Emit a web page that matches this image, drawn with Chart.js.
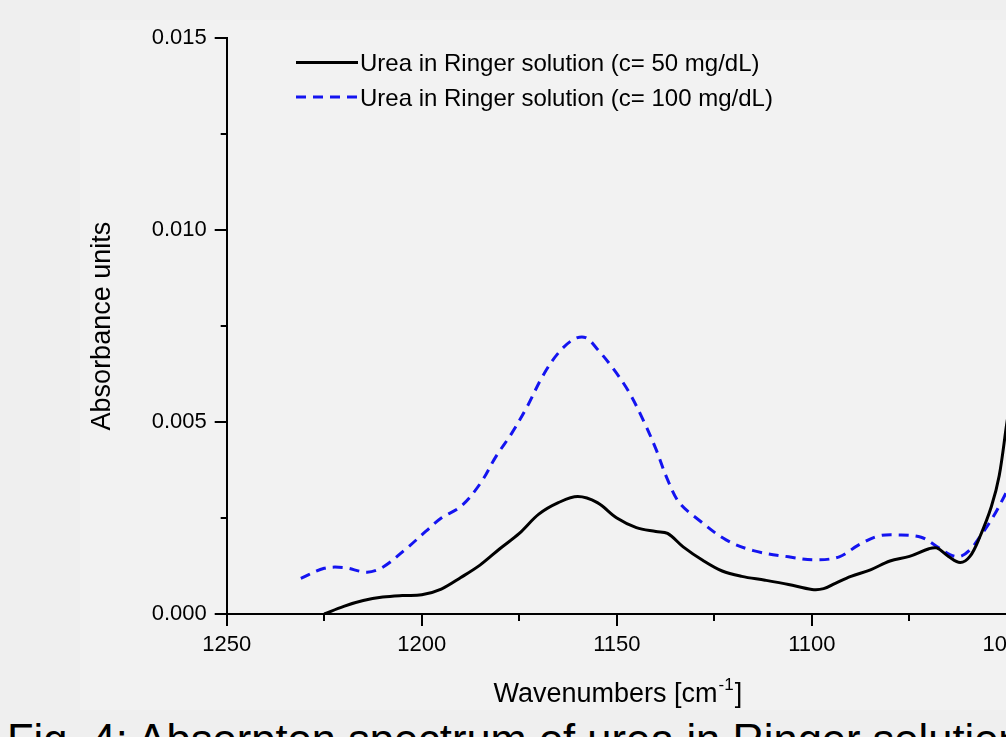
<!DOCTYPE html>
<html>
<head>
<meta charset="utf-8">
<script src="https://cdn.jsdelivr.net/npm/chart.js@4.4.1/dist/chart.umd.min.js"></script>
<style>
html, body { margin: 0; padding: 0; background: #efefef; overflow: hidden; width: 1006px; height: 737px; }
#panel { position: absolute; left: 80px; top: 20px; width: 1000px; height: 690px; background: #f2f2f2; }
#chart { display: block; position: absolute; left: 80px; top: 5px; }
#caption { position: absolute; left: 7px; top: 719px; font: 43.5px "Liberation Sans", Arial, sans-serif; line-height: 43.5px; white-space: nowrap; color: #000; }
</style>
</head>
<body>
<div id="panel"></div>
<canvas id="chart" width="1000" height="705"></canvas>
<div id="caption">Fig. 4: Absorpton spectrum of urea in Ringer solution</div>
<script>
// series (wavenumber, absorbance)
const wn50 = [1225, 1220, 1215, 1210, 1205, 1200, 1195, 1190, 1185, 1180, 1175, 1170, 1165, 1160, 1155, 1150, 1145, 1140, 1137, 1133, 1128, 1123, 1118, 1112, 1106, 1100, 1097, 1094, 1090, 1085, 1080, 1075, 1070, 1068, 1065, 1062, 1059.5, 1057, 1054, 1052, 1050, 1049];
const abs50 = [0.0000, 0.0002, 0.00035, 0.00044, 0.00048, 0.0005, 0.00065, 0.00095, 0.00128, 0.0017, 0.0021, 0.0026, 0.0029, 0.00306, 0.0029, 0.0025, 0.00225, 0.00215, 0.0021, 0.00175, 0.0014, 0.00112, 0.00098, 0.00088, 0.00077, 0.00064, 0.00066, 0.0008, 0.00098, 0.00115, 0.00138, 0.0015, 0.0017, 0.00172, 0.0015, 0.00134, 0.0015, 0.002, 0.0028, 0.0036, 0.005, 0.0056];

const wn100 = [1231, 1225, 1220, 1214, 1210, 1204, 1199, 1195, 1190, 1185, 1181, 1177, 1173, 1169, 1165, 1161, 1158, 1155, 1151, 1147, 1143, 1140, 1137, 1134, 1129, 1122, 1115, 1106, 1099, 1093, 1088, 1083, 1078, 1072, 1068, 1064.5, 1062, 1059.5, 1057, 1053.5, 1050, 1048];
const abs100 = [0.00093, 0.00119, 0.00121, 0.00109, 0.00122, 0.0017, 0.00215, 0.0025, 0.0028, 0.0034, 0.0041, 0.0047, 0.0054, 0.0062, 0.0068, 0.00716, 0.0072, 0.0069, 0.0064, 0.0058, 0.005, 0.0043, 0.0035, 0.0029, 0.00245, 0.00193, 0.00165, 0.00149, 0.00141, 0.00149, 0.0018, 0.00203, 0.00206, 0.002, 0.00176, 0.00154, 0.0015, 0.00167, 0.002, 0.00254, 0.0032, 0.0036];

const seriesNames = ['Urea in Ringer solution (c= 50 mg/dL)', 'Urea in Ringer solution (c= 100 mg/dL)'];
const xTitle = 'Wavenumbers [cm';
const xTitleSup = '-1';
const yTitle = 'Absorbance units';

const FONT = '"Liberation Sans", Arial, sans-serif';
const dash = [10, 7];

function pts(xs, ys) {
  return xs.map((x, i) => ({ x: x, y: ys[i] }));
}

// tick marks, axis titles and legend
const decor = {
  id: 'decor',
  afterDraw(chart) {
    const ctx = chart.ctx;
    const a = chart.chartArea;
    const xs = chart.scales.x, ys = chart.scales.y;
    ctx.save();
    ctx.strokeStyle = '#000';
    ctx.lineWidth = 2;
    ctx.beginPath();
    for (let v = 1050; v <= 1250; v += 25) {
      const px = Math.round(xs.getPixelForValue(v));
      const len = v % 50 === 0 ? 12 : 7;
      ctx.moveTo(px, a.bottom);
      ctx.lineTo(px, a.bottom + len);
    }
    for (let k = 0; k <= 6; k++) {
      const py = Math.round(ys.getPixelForValue(k * 0.0025));
      const len = k % 2 === 0 ? 12 : 6;
      ctx.moveTo(a.left, py);
      ctx.lineTo(a.left - len, py);
    }
    ctx.stroke();

    ctx.fillStyle = '#000';
    // x title with superscript
    ctx.font = '27px ' + FONT;
    const w1 = ctx.measureText(xTitle).width;
    ctx.font = '17px ' + FONT;
    const w2 = ctx.measureText(xTitleSup).width;
    ctx.font = '27px ' + FONT;
    const w3 = ctx.measureText(']').width;
    let tx = (a.left + a.right) / 2 - (w1 + w2 + w3) / 2;
    const tb = a.bottom + 88;
    ctx.textBaseline = 'alphabetic';
    ctx.textAlign = 'left';
    ctx.fillText(xTitle, tx, tb);
    ctx.font = '17px ' + FONT;
    ctx.fillText(xTitleSup, tx + w1 + 1, tb - 12);
    ctx.font = '27px ' + FONT;
    ctx.fillText(']', tx + w1 + w2 + 2, tb);

    // y title
    ctx.save();
    ctx.translate(30, (a.top + a.bottom) / 2);
    ctx.rotate(-Math.PI / 2);
    ctx.textAlign = 'center';
    ctx.fillText(yTitle, 0, 0);
    ctx.restore();

    // legend
    ctx.font = '24px ' + FONT;
    chart.data.datasets.forEach((ds, i) => {
      const cy = 57.5 + i * 34.5;
      ctx.save();
      ctx.strokeStyle = ds.borderColor;
      ctx.lineWidth = ds.borderWidth;
      ctx.setLineDash(ds.borderDash || []);
      ctx.beginPath();
      ctx.moveTo(216, cy);
      ctx.lineTo(278, cy);
      ctx.stroke();
      ctx.restore();
      ctx.fillText(seriesNames[i], 280, cy + 8.6);
    });
    ctx.restore();
  }
};

const chart = new Chart(document.getElementById('chart'), {
  type: 'line',
  data: {
    datasets: [{
      label: seriesNames[0],
      data: pts(wn50, abs50),
      borderColor: '#000000',
      borderWidth: 3,
      pointRadius: 0,
      tension: 0.35,
      fill: false
    }, {
      label: seriesNames[1],
      data: pts(wn100, abs100),
      borderColor: '#1414f0',
      borderWidth: 3,
      borderDash: dash,
      pointRadius: 0,
      tension: 0.35,
      fill: false
    }]
  },
  options: {
    responsive: false,
    animation: false,
    layout: { padding: { left: 0, top: 3, right: 73, bottom: 0 } },
    plugins: { legend: { display: false }, tooltip: { enabled: false } },
    scales: {
      x: {
        type: 'linear',
        reverse: true,
        min: 1050,
        max: 1250,
        grid: { drawOnChartArea: false, drawTicks: false },
        border: { color: '#000', width: 2 },
        ticks: { stepSize: 50, padding: 18, color: '#000', font: { size: 22, family: FONT },
          callback: v => String(v) },
        afterFit(s) { s.height = 96; }
      },
      y: {
        min: 0,
        max: 0.015,
        grid: { drawOnChartArea: false, drawTicks: false },
        border: { color: '#000', width: 2 },
        ticks: { stepSize: 0.005, padding: 20, color: '#000', font: { size: 22, family: FONT },
          callback: v => v.toFixed(3) },
        afterFit(s) { s.width = 146.7; }
      }
    }
  },
  plugins: [decor]
});
</script>
</body>
</html>
